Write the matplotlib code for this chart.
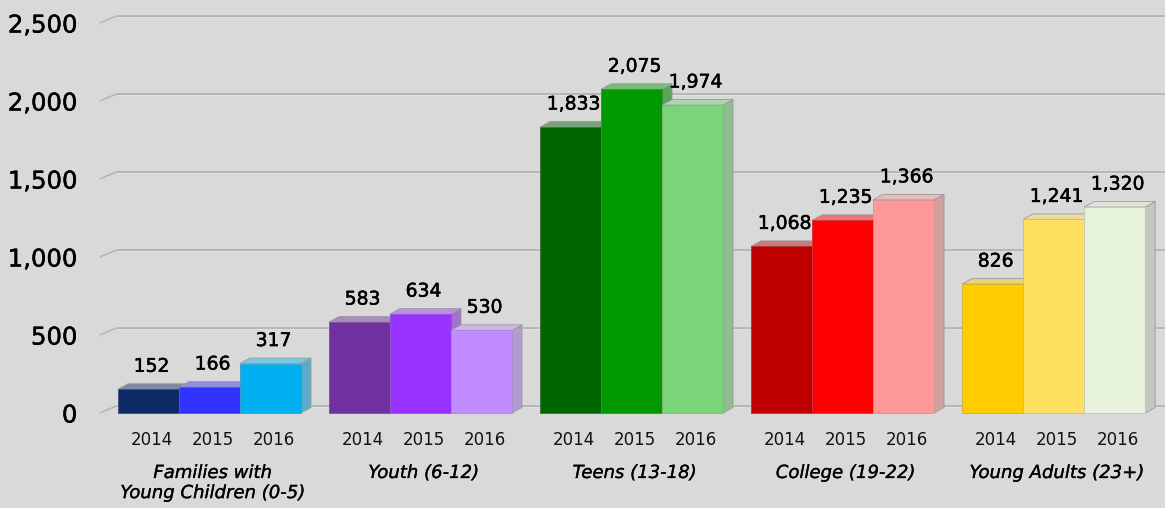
import numpy as np
import matplotlib
matplotlib.use("Agg")
import matplotlib.pyplot as plt
import matplotlib.patheffects as pe
from matplotlib.patches import Polygon, Rectangle
from matplotlib.colors import to_rgb

# data
groups = ["Families with\nYoung Children (0-5)", "Youth (6-12)", "Teens (13-18)",
          "College (19-22)", "Young Adults (23+)"]
years = ["2014", "2015", "2016"]
v2014 = [152, 583, 1833, 1068, 826]
v2015 = [166, 634, 2075, 1235, 1241]
v2016 = [317, 530, 1974, 1366, 1320]
yticks = [0, 500, 1000, 1500, 2000, 2500]

colors = [
    ["#0E2A66", "#3333FF", "#00B0F0"],
    ["#7030A0", "#9933FF", "#C08CFF"],
    ["#006600", "#009900", "#7AD47A"],
    ["#C00000", "#FF0000", "#FF9999"],
    ["#FFCC00", "#FFE060", "#E6F2DC"],
]

bg = "#D9D9D9"
W, H = 1165, 508
fig = plt.figure(figsize=(W / 100, H / 100), dpi=100, facecolor=bg)
ax = fig.add_axes([101 / W, (H - 413) / H, (W - 101) / W, (413 - 23) / H])
ax.set_facecolor(bg)
ax.set_xlim(-0.514, 4.528)
ax.set_ylim(0, 2500)
for s in ax.spines.values():
    s.set_visible(False)

px_y = 2500 / 390.0          # data units per pixel (y)
px_x = 1.0 / 211.0           # data units per pixel (x)
w = 61 * px_x                # bar width
dx, dy = 10 * px_x, 5.5 * px_y   # bar depth
heavy = [pe.withStroke(linewidth=0.35, foreground="#000000")]


def mix(c, other, t):
    a = np.array(to_rgb(c))
    b = np.array(to_rgb(other))
    return tuple(a * (1 - t) + b * t)


# back wall gridlines with a short diagonal on the left
gx, gdy = 16 * px_x, 6.5 * px_y
x_left, x_right = ax.get_xlim()
for v in yticks:
    xs = [x_left, x_left + gx, x_right]
    ys = [v, v + gdy, v + gdy]
    ax.plot(xs, ys, color="#B5B5B5", lw=2.0, clip_on=False, zorder=1,
            solid_capstyle="round")
    ax.plot(xs, [y - 0.9 * px_y for y in ys], color="#EBEBEB", lw=0.6,
            clip_on=False, zorder=1)

ax.set_yticks(yticks)
ax.set_yticklabels([f"{v:,}" for v in yticks], fontsize=17.5, color="#000000")
for t in ax.get_yticklabels():
    t.set_path_effects(heavy)
ax.tick_params(axis="y", length=0, pad=17)
ax.set_xticks([])

edge = "#9A9A9A"
z = 2
for gi in range(len(groups)):
    vals = [v2014[gi], v2015[gi], v2016[gi]]
    for bi, h in enumerate(vals):
        xc = gi + (bi - 1) * w
        x0 = xc - w / 2
        c = colors[gi][bi]
        side = Polygon([(x0 + w, 0), (x0 + w + dx, dy), (x0 + w + dx, h + dy), (x0 + w, h)],
                       closed=True, fc=mix(c, "#A8A8A8", 0.55), ec=edge, lw=0.6,
                       zorder=z, clip_on=False)
        top = Polygon([(x0, h), (x0 + w, h), (x0 + w + dx, h + dy), (x0 + dx, h + dy)],
                      closed=True, fc=mix(c, "#D8D8D8", 0.55), ec=edge, lw=0.6,
                      zorder=z, clip_on=False)
        front = Rectangle((x0, 0), w, h, fc=c, ec=mix(c, "#888888", 0.4), lw=0.6,
                          zorder=z + 0.5, clip_on=False)
        ax.add_patch(side)
        ax.add_patch(top)
        ax.add_patch(front)
        z += 1
        ax.text(xc + 3 * px_x, h + dy + 12 * px_y, f"{h:,}", ha="center",
                va="baseline", fontsize=13.5, color="#000000", zorder=50,
                path_effects=heavy)
        ax.text(xc + 3 * px_x, -27 * px_y, years[bi], ha="center", va="center",
                fontsize=12, color="#111111", clip_on=False)
    ax.text(gi + 3 * px_x, -51 * px_y, groups[gi], ha="center", va="top",
            fontsize=13, style="italic", color="#000000", linespacing=1.15,
            clip_on=False, path_effects=[pe.withStroke(linewidth=0.2, foreground="#000000")])

fig.savefig("out.png", dpi=100, facecolor=bg)
